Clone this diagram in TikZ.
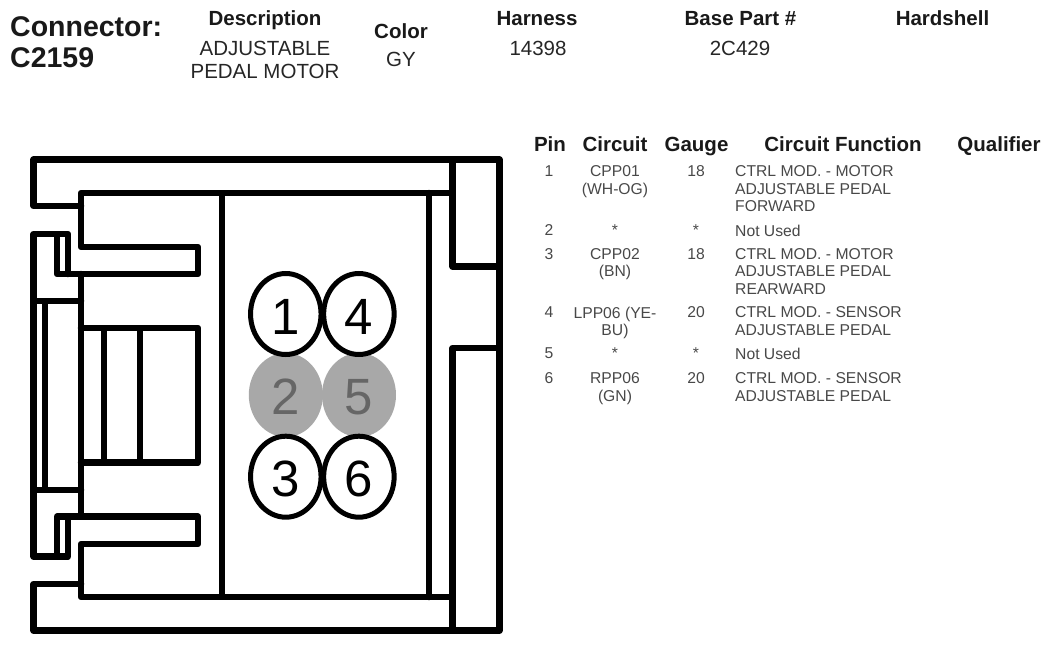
\documentclass[tikz,border=0pt]{standalone}
\usepackage{fontspec}
\setmainfont{Liberation Sans}
\usetikzlibrary{shapes.geometric}
\definecolor{pingray}{HTML}{A8A8A8}
\definecolor{pindigit}{HTML}{666666}
\definecolor{tabletext}{HTML}{484848}
\tikzset{
  wall/.style={line width=6.5pt,line cap=round,line join=round},
  thin wall/.style={line width=5.6pt},
  pin/.style={ellipse,draw,line width=5pt,fill=white,minimum width=70.5pt,minimum height=81pt,inner sep=0pt,text depth=0pt,font=\fontsize{51}{51}\selectfont},
  deadpin/.style={ellipse,fill=pingray,text=pindigit,minimum width=74pt,minimum height=84pt,inner sep=0pt,text depth=0pt,text height=39pt,font=\fontsize{51}{51}\selectfont},
  head/.style={font=\fontsize{20.5}{23}\selectfont\bfseries,text=black!90,inner sep=0pt,anchor=base},
  val/.style={font=\fontsize{20.5}{23.3}\selectfont,text=black!85,inner sep=0pt,anchor=base},
  cell/.style={font=\fontsize{15.7}{17.5}\selectfont,text=tabletext,inner sep=0pt,align=center,anchor=north},
  func/.style={font=\fontsize{15.7}{17.5}\selectfont,text=tabletext,inner sep=0pt,align=left,anchor=north west}
}
\begin{document}
\begin{tikzpicture}[x=1pt,y=-1pt]
\useasboundingbox (0,0) rectangle (1052,650);
% housing
\draw[wall] (81,206) -- (33.7,206) -- (33.7,159.5) -- (499.3,159.5) -- (499.3,630.7) -- (33.7,630.7) -- (33.7,584) -- (81,584);
\draw[wall] (452.7,193) -- (81,193) -- (81,247) -- (198,247) -- (198,274) -- (57,274) -- (57,234) -- (33.7,234) -- (33.7,556.7) -- (68,556.7) -- (68,516.7);
\draw[wall] (57,234) -- (68,234) -- (68,274);
\draw[wall] (57,556.7) -- (57,516.7) -- (198,516.7) -- (198,544) -- (81,544) -- (81,597) -- (452.7,597);
\draw[wall] (81,274) -- (81,516.7);
\draw[wall] (33.7,301) -- (81,301);
\draw[wall] (33.7,490) -- (81,490);
\draw[thin wall] (45,301) -- (45,490);
\draw[wall] (81,328) -- (198,328) -- (198,462.7) -- (81,462.7);
\draw[thin wall] (104,328) -- (104,462.7);
\draw[thin wall] (140,328) -- (140,462.7);
\draw[thin wall] (222,193) -- (222,597);
\draw[wall] (429,193) -- (429,597);
\draw[wall] (452.7,159.5) -- (452.7,266.7) -- (499.3,266.7);
\draw[wall] (499.3,348) -- (452.7,348) -- (452.7,630.7);
% pins
\node[deadpin] (p2) at (285.8,395) {2};
\node[deadpin] (p5) at (359,395) {5};
\node[pin,text height=41pt] (p1) at (285.8,314) {1};
\node[pin,text height=41pt] (p4) at (358.9,314) {4};
\node[pin,text height=39pt] (p3) at (285.8,476.7) {3};
\node[pin,text height=39pt] (p6) at (358.9,476.7) {6};
% header
\node[font=\fontsize{28.5}{31}\selectfont\bfseries,text=black!90,inner sep=0pt,align=left,anchor=north west] (conn) at (10,16.7) {Connector:\\C2159};
\node[head] (hdesc) at (265,26) {Description};
\node[val,align=center,anchor=north] (vdesc) at (265,41) {ADJUSTABLE\\PEDAL MOTOR};
\node[head] (hcol) at (401,38.3) {Color};
\node[val] (vcol) at (401,66.7) {GY};
\node[head] (hhar) at (537,26) {Harness};
\node[val] (vhar) at (538,56) {14398};
\node[head] (hbase) at (740.5,26) {Base Part \#};
\node[val] (vbase) at (740,56) {2C429};
\node[head] (hhard) at (942.5,26) {Hardshell};
% table head
\node[head] (tpin) at (550,151.7) {Pin};
\node[head] (tcir) at (615,151.7) {Circuit};
\node[head] (tgau) at (696.5,151.7) {Gauge};
\node[head] (tfun) at (843,151.7) {Circuit Function};
\node[head] (tqua) at (999,151.7) {Qualifier};
% rows
\node[cell] (r1a) at (549,165.7) {1};
\node[cell] (r1b) at (615,165.7) {CPP01\\(WH-OG)};
\node[cell] (r1c) at (696,165.7) {18};
\node[func] (r1d) at (735,165.7) {CTRL MOD. - MOTOR\\ADJUSTABLE PEDAL\\FORWARD};
\node[cell] (r2a) at (549,224.5) {2};
\node[cell] (r2b) at (615,224.5) {*};
\node[cell] (r2c) at (696,224.5) {*};
\node[func] (r2d) at (735,224.5) {Not Used};
\node[cell] (r3a) at (549,248) {3};
\node[cell] (r3b) at (615,248) {CPP02\\(BN)};
\node[cell] (r3c) at (696,248) {18};
\node[func] (r3d) at (735,248) {CTRL MOD. - MOTOR\\ADJUSTABLE PEDAL\\REARWARD};
\node[cell] (r4a) at (549,306.7) {4};
\node[cell] (r4b) at (615,306.7) {LPP06 (YE-\\BU)};
\node[cell] (r4c) at (696,306.7) {20};
\node[func] (r4d) at (735,306.7) {CTRL MOD. - SENSOR\\ADJUSTABLE PEDAL};
\node[cell] (r5a) at (549,347.7) {5};
\node[cell] (r5b) at (615,347.7) {*};
\node[cell] (r5c) at (696,347.7) {*};
\node[func] (r5d) at (735,347.7) {Not Used};
\node[cell] (r6a) at (549,372.7) {6};
\node[cell] (r6b) at (615,372.7) {RPP06\\(GN)};
\node[cell] (r6c) at (696,372.7) {20};
\node[func] (r6d) at (735,372.7) {CTRL MOD. - SENSOR\\ADJUSTABLE PEDAL};
\end{tikzpicture}
\end{document}
